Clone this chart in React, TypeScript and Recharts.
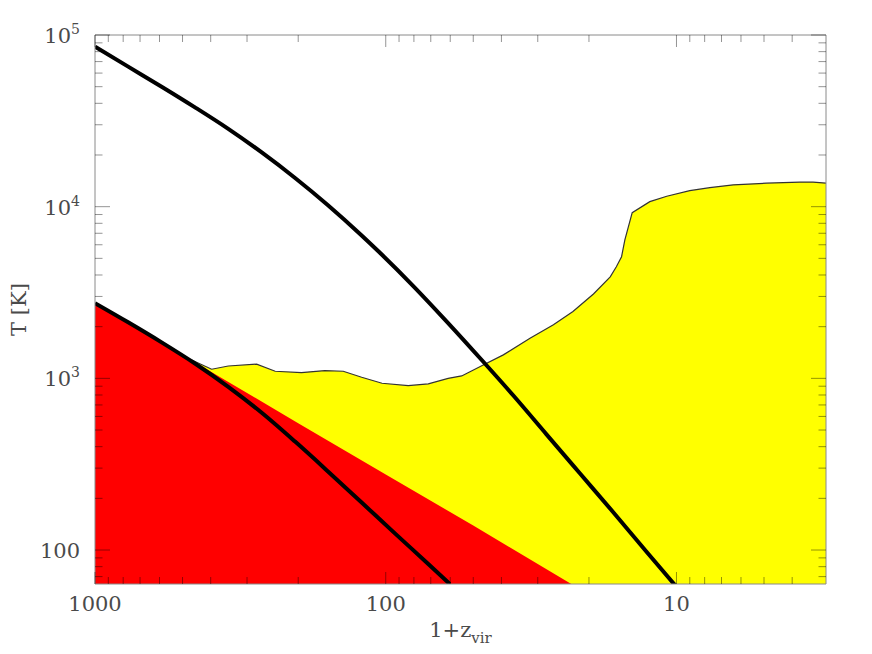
import { ComposedChart, Area, Line, XAxis, YAxis } from 'recharts';

// values (x = 1+z_vir, t = temperature in K)
const upperZ = [1000, 769, 590, 453, 348, 267, 205, 158, 121, 104.7, 80.4, 61.8, 45.6, 36.4, 28.0, 21.5, 16.5, 12.7, 10.0];
const upperT = [85500, 65400, 50000, 37900, 28400, 20700, 14700, 10200, 6800, 5390, 3450, 2150, 1220, 794, 472, 280, 166, 98, 61];

const lowerZ = [1000, 769, 590, 453, 348, 267, 205, 158, 121, 93, 71.4, 60.2];
const lowerT = [2740, 2120, 1620, 1220, 892, 630, 428, 287, 189, 125, 83, 63.4];

const cmbZ = [1000, 500, 200, 100, 50, 23];
const cmbT = [2740, 1370, 548, 275, 139, 63.4];

const yellowZ = [465, 397, 348, 278, 240, 195, 162, 140, 121, 103, 83.7, 71.4, 61, 54.8, 46.2, 39.4, 31.9, 26.5, 22.7, 19.3, 16.9, 16.1, 15.45, 15.05, 14.2, 12.35, 10.8, 9.0, 7.68, 6.38, 4.9, 3.76, 3.39, 3.06];
const yellowT = [1280, 1130, 1180, 1210, 1100, 1080, 1110, 1100, 1015, 936, 907, 928, 1000, 1033, 1197, 1370, 1710, 2050, 2450, 3100, 3900, 4470, 5110, 6400, 9230, 10700, 11500, 12400, 12900, 13400, 13700, 13900, 13900, 13700];

// axis ticks
const xMajor = [1000, 100, 10];
const xMinor = [900, 800, 700, 600, 500, 400, 300, 200, 90, 80, 70, 60, 50, 40, 30, 20, 9, 8, 7, 6, 5, 4];
const yMajor = [100, 1000, 10000, 100000];
const yMinor = [70, 80, 90, 200, 300, 400, 500, 600, 700, 800, 900, 2000, 3000, 4000, 5000, 6000, 7000, 8000, 9000,
  20000, 30000, 40000, 50000, 60000, 70000, 80000, 90000];
const yPowers: Record<number, string> = { 1000: '3', 10000: '4', 100000: '5' };

const X_DOMAIN = [3.06, 1000];
const Y_DOMAIN = [63.4, 100000];

const toPoints = (xs: number[], ts: number[]) => xs.map((x, i) => ({ x, t: ts[i] }));

const upperData = toPoints(upperZ, upperT);
const lowerData = toPoints(lowerZ, lowerT);
const cmbData = toPoints(cmbZ, cmbT);
const yellowData = toPoints(yellowZ, yellowT);

const FONT = '"DejaVu Serif", serif';
const TEXT = '#4a4a4a';
const FRAME = '#8a8a8a';
const TICK = 'rgba(0,0,0,0.42)';

const xTicks = [...xMajor, ...xMinor];
const yTicks = [...yMajor, ...yMinor];

function xTick(side: 'bottom' | 'top') {
  return (props: any) => {
    const { x, y, payload } = props;
    const major = xMajor.includes(payload.value);
    const len = major ? 12 : 7;
    const dir = side === 'bottom' ? -1 : 1;
    return (
      <g>
        <line x1={x} x2={x} y1={y} y2={y + dir * len} stroke={TICK} />
        {major && side === 'bottom' && (
          <text x={x} y={y + 27} textAnchor="middle" fontFamily={FONT} fontSize={21} fill={TEXT}>
            {payload.value}
          </text>
        )}
      </g>
    );
  };
}

function yTick(side: 'left' | 'right') {
  return (props: any) => {
    const { x, y, payload } = props;
    const major = yMajor.includes(payload.value);
    const len = major ? 15 : 7.5;
    const dir = side === 'left' ? 1 : -1;
    const pow = yPowers[payload.value];
    return (
      <g>
        <line x1={x} x2={x + dir * len} y1={y} y2={y} stroke={TICK} />
        {major && side === 'left' && (
          <text x={x - 15} y={y + 8} textAnchor="end" fontFamily={FONT} fontSize={21} fill={TEXT}>
            {pow ? '10' : payload.value}
            {pow && (
              <tspan dy={-9} fontSize={14}>
                {pow}
              </tspan>
            )}
          </text>
        )}
      </g>
    );
  };
}

export default function App() {
  return (
    <ComposedChart width={856} height={638} margin={{ top: 0, right: 0, bottom: 0, left: 0 }}>
      <Area
        data={yellowData}
        dataKey="t"
        type="linear"
        fill="#ffff00"
        fillOpacity={1}
        stroke="#333333"
        strokeWidth={1.2}
        isAnimationActive={false}
      />
      <Area
        data={cmbData}
        dataKey="t"
        type="linear"
        fill="#ff0000"
        fillOpacity={1}
        stroke="none"
        isAnimationActive={false}
      />
      <Line data={lowerData} dataKey="t" type="monotone" stroke="#000" strokeWidth={4} dot={false} isAnimationActive={false} />
      <Line data={upperData} dataKey="t" type="monotone" stroke="#000" strokeWidth={4} dot={false} isAnimationActive={false} />

      <XAxis
        type="number"
        dataKey="x"
        scale="log"
        domain={X_DOMAIN}
        reversed
        allowDataOverflow
        ticks={xTicks}
        interval={0}
        tick={xTick('bottom')}
        tickLine={false}
        tickSize={0}
        tickMargin={0}
        axisLine={{ stroke: FRAME }}
        height={62}
        label={{
          content: ({ viewBox }: any) => (
            <text
              x={viewBox.x + viewBox.width / 2}
              y={viewBox.y + 53}
              textAnchor="middle"
              fontFamily={FONT}
              fontSize={21}
              fill={TEXT}
            >
              1+z
              <tspan dy={6} fontSize={15}>vir</tspan>
            </text>
          ),
        }}
      />
      <XAxis
        xAxisId="top"
        orientation="top"
        type="number"
        dataKey="x"
        scale="log"
        domain={X_DOMAIN}
        reversed
        allowDataOverflow
        ticks={xTicks}
        interval={0}
        tick={xTick('top')}
        tickLine={false}
        tickSize={0}
        tickMargin={0}
        axisLine={{ stroke: FRAME }}
        height={27}
      />
      <YAxis
        type="number"
        dataKey="t"
        scale="log"
        domain={Y_DOMAIN}
        allowDataOverflow
        ticks={yTicks}
        interval={0}
        tick={yTick('left')}
        tickLine={false}
        tickSize={0}
        tickMargin={0}
        axisLine={{ stroke: FRAME }}
        width={87}
        label={{
          content: ({ viewBox }: any) => {
            const cx = 18;
            const cy = viewBox.y + viewBox.height / 2;
            return (
              <text
                x={cx}
                y={cy}
                transform={`rotate(-90 ${cx} ${cy})`}
                textAnchor="middle"
                fontFamily={FONT}
                fontSize={21}
                fill={TEXT}
              >
                T [K]
              </text>
            );
          },
        }}
      />
      <YAxis
        yAxisId="right"
        orientation="right"
        type="number"
        dataKey="t"
        scale="log"
        domain={Y_DOMAIN}
        allowDataOverflow
        ticks={yTicks}
        interval={0}
        tick={yTick('right')}
        tickLine={false}
        tickSize={0}
        tickMargin={0}
        axisLine={{ stroke: FRAME }}
        width={38}
      />
    </ComposedChart>
  );
}
